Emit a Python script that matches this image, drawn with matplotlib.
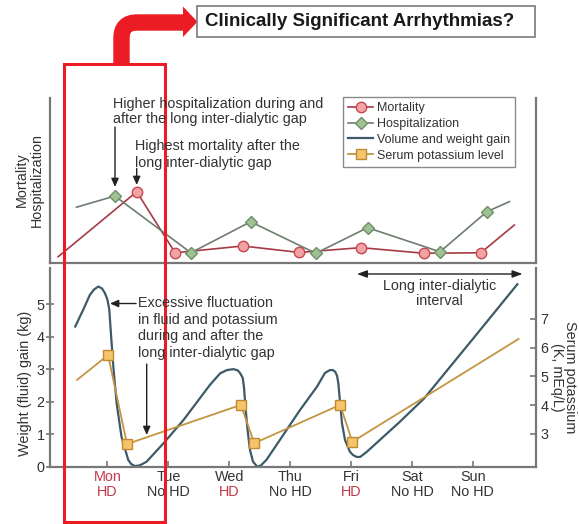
import matplotlib
matplotlib.use("Agg")
import matplotlib.pyplot as plt
from matplotlib.patches import Rectangle, Polygon, PathPatch
from matplotlib.path import Path

plt.rcParams['font.family'] = ['Liberation Sans', 'DejaVu Sans']

# x axis is in days, Mon = 0
days = ['Mon', 'Tue', 'Wed', 'Thu', 'Fri', 'Sat', 'Sun']
sessions = ['HD', 'No HD', 'HD', 'No HD', 'HD', 'No HD', 'No HD']
day_pos = [0, 1, 2, 3, 4, 5, 6]

# top panel (relative scale, no ticks)
mort_x = [-0.81, 0.48, 1.11, 2.22, 3.15, 4.16, 5.20, 6.13, 6.68]
mort_y = [0.38, 4.32, 0.62, 1.03, 0.64, 0.93, 0.59, 0.62, 2.30]
hosp_x = [-0.51, 0.12, 1.37, 2.35, 3.42, 4.27, 5.46, 6.23, 6.60]
hosp_y = [3.38, 4.06, 0.62, 2.50, 0.59, 2.14, 0.68, 3.11, 3.72]

# bottom panel: weight gain (kg)
vol_x = [-0.53, -0.40, -0.29, -0.22, -0.15, -0.09, -0.04, 0.00, 0.03, 0.06, 0.10,
         0.15, 0.23, 0.34, 0.39, 0.45, 0.53, 0.64, 0.92, 1.25, 1.68, 1.85, 1.96,
         2.07, 2.14, 2.18, 2.22, 2.24, 2.27, 2.30, 2.34, 2.39, 2.46, 2.52, 2.61,
         2.83, 3.16, 3.44, 3.57, 3.65, 3.70, 3.74, 3.77, 3.79, 3.82, 3.85, 3.90,
         3.98, 4.03, 4.09, 4.15, 4.26, 4.80, 5.20, 6.00, 6.73]
vol_y = [4.32, 4.83, 5.29, 5.46, 5.55, 5.49, 5.34, 5.14, 4.83, 4.01, 2.99,
         1.96, 0.93, 0.22, 0.09, 0.03, 0.05, 0.16, 0.73, 1.45, 2.52, 2.88, 2.98,
         3.01, 2.97, 2.88, 2.74, 2.47, 1.75, 1.14, 0.52, 0.16, 0.01, 0.05, 0.22,
         0.83, 1.75, 2.47, 2.89, 2.98, 2.98, 2.93, 2.80, 2.58, 1.96, 1.35, 0.83,
         0.47, 0.37, 0.31, 0.31, 0.47, 1.39, 2.11, 3.94, 5.62]

# serum potassium (K, mEq/L)
k_x = [-0.50, 0.01, 0.32, 2.19, 2.41, 3.82, 4.02, 6.75]
k_y = [4.88, 5.74, 2.65, 4.01, 2.68, 4.01, 2.73, 6.30]

TXT = '#333333'
HD_RED = '#c23a48'
RED = '#ec1c24'
SPINE = '#777777'
FS = 10.4

fig = plt.figure(figsize=(5.79, 5.24), dpi=100)
W, H = 579, 524

ax_top = fig.add_axes([50 / W, 1 - 263 / H, 486 / W, 165 / H])
ax_bot = fig.add_axes([50 / W, 1 - 467 / H, 486 / W, 199 / H])
ax_k = ax_bot.twinx()

xlim = (-0.944, 7.036)

# top panel
l_mort, = ax_top.plot(mort_x, mort_y, color='#a63a45', lw=1.2, marker='o', ms=7.5,
                      mfc='#f2a3a3', mec='#c8474f', mew=1.0, markevery=slice(1, -1),
                      label='Mortality')
l_hosp, = ax_top.plot(hosp_x, hosp_y, color='#6f7d70', lw=1.2, marker='D', ms=6,
                      mfc='#9fc194', mec='#6f8f66', mew=1.0, markevery=slice(1, -1),
                      label='Hospitalization')
ax_top.set_xlim(xlim)
ax_top.set_ylim(0, 10)
ax_top.set_xticks([])
ax_top.set_yticks([])
ax_top.spines['top'].set_visible(False)
for s in ['left', 'right', 'bottom']:
    ax_top.spines[s].set_color(SPINE)
    ax_top.spines[s].set_linewidth(1.6)

# bottom panel
l_vol, = ax_bot.plot(vol_x, vol_y, color='#3e5a69', lw=1.6, solid_joinstyle='round',
                     label='Volume and weight gain')
l_k, = ax_k.plot(k_x, k_y, color='#c39540', lw=1.3, marker='s', ms=7,
                 mfc='#f6c46a', mec='#c08a33', mew=1.0, markevery=slice(1, -1),
                 label='Serum potassium level')
ax_bot.set_xlim(xlim)
ax_bot.set_ylim(0, 6.12)
ax_k.set_ylim(1.854, 8.764)
ax_bot.set_yticks([0, 1, 2, 3, 4, 5])
ax_k.set_yticks([3, 4, 5, 6, 7])
ax_bot.set_xticks(day_pos)
ax_bot.set_xticklabels([])
ax_bot.tick_params(axis='x', direction='in', length=4, color=SPINE, width=1.2)
ax_bot.tick_params(axis='y', direction='inout', length=6, color=SPINE, width=1.2,
                   labelsize=FS, labelcolor=TXT, pad=0.8)
ax_k.tick_params(axis='y', direction='in', length=4, color=SPINE, width=1.2,
                 labelsize=FS, labelcolor=TXT, pad=3)
for a in (ax_bot, ax_k):
    a.spines['top'].set_visible(False)
    for s in ['left', 'right', 'bottom']:
        a.spines[s].set_color(SPINE)
        a.spines[s].set_linewidth(1.6)
ax_k.spines['left'].set_visible(False)
ax_k.spines['bottom'].set_visible(False)
ax_bot.spines['right'].set_visible(False)

# two-line day labels
xt = ax_bot.get_xaxis_transform()
for i, (d, s) in enumerate(zip(days, sessions)):
    c1 = HD_RED if i == 0 else TXT
    c2 = HD_RED if s == 'HD' else TXT
    ax_bot.text(day_pos[i], -0.049, d, transform=xt, ha='center', va='center',
                fontsize=FS, color=c1)
    ax_bot.text(day_pos[i], -0.124, s, transform=xt, ha='center', va='center',
                fontsize=FS, color=c2)

leg = ax_top.legend(handles=[l_mort, l_hosp, l_vol, l_k], loc='upper left',
                    bbox_to_anchor=(0.6035, 1.004), borderaxespad=0, fontsize=9,
                    frameon=True, fancybox=False, framealpha=1, edgecolor='#8a8a8a',
                    handlelength=2.0, handletextpad=0.3, labelspacing=0.3,
                    borderpad=0.4)
leg.get_frame().set_linewidth(1.0)
for t in leg.get_texts():
    t.set_color(TXT)

# overlay in pixel coordinates for the notes and decorations
ov = fig.add_axes([0, 0, 1, 1])
ov.set_xlim(0, W)
ov.set_ylim(H, 0)
ov.axis('off')
ov.patch.set_visible(False)

arr = dict(arrowstyle='-|>,head_length=0.5,head_width=0.22', color='#222222', lw=1.0,
           shrinkA=0, shrinkB=0)

ov.text(112.7, 111.5, 'Higher hospitalization during and\nafter the long inter-dialytic gap',
        fontsize=FS, color=TXT, ha='left', va='center', linespacing=1.17)
ov.annotate('', xy=(115, 187), xytext=(115, 127), arrowprops=arr)
ov.text(135, 154.5, 'Highest mortality after the\nlong inter-dialytic gap',
        fontsize=FS, color=TXT, ha='left', va='center', linespacing=1.2)
ov.annotate('', xy=(136.7, 185), xytext=(136.7, 168.5), arrowprops=arr)

ov.text(138.3, 328, 'Excessive fluctuation\nin fluid and potassium\nduring and after the\nlong inter-dialytic gap',
        fontsize=FS, color=TXT, ha='left', va='center', linespacing=1.22)
ov.annotate('', xy=(110, 303.5), xytext=(136, 303.5), arrowprops=arr)
ov.annotate('', xy=(146.7, 435), xytext=(146.7, 364), arrowprops=arr)

ov.annotate('', xy=(522.5, 274), xytext=(357, 274),
            arrowprops=dict(arrowstyle='<|-|>,head_length=0.6,head_width=0.22',
                            color='#222222', lw=1.0, shrinkA=0, shrinkB=0))
ov.text(439.5, 293.5, 'Long inter-dialytic\ninterval', fontsize=FS, color=TXT,
        ha='center', va='center', multialignment='center', linespacing=1.17)

# axis titles
ov.text(29, 180, 'Mortality\nHospitalization', fontsize=FS, color=TXT, rotation=90,
        ha='center', va='center', multialignment='center', linespacing=1.1)
ov.text(25, 383, 'Weight (fluid) gain (kg)', fontsize=FS, color=TXT, rotation=90,
        ha='center', va='center')
ov.text(563.5, 377, 'Serum potassium\n(K, mEq/L)', fontsize=FS, color=TXT, rotation=-90,
        ha='center', va='center', multialignment='center', linespacing=0.95)

# red highlight box and bent arrow
ov.add_patch(Rectangle((63.5, 63.5), 101.5, 458, fill=False, edgecolor=RED, lw=2.2))
bend = Path([(121.5, 64), (121.5, 38), (121.5, 22.5), (137, 22.5), (184, 22.5)],
            [Path.MOVETO, Path.LINETO, Path.CURVE3, Path.CURVE3, Path.LINETO])
ov.add_patch(PathPatch(bend, fill=False, edgecolor=RED, lw=11.8, capstyle='butt',
                       joinstyle='miter'))
ov.add_patch(Polygon([(183, 6.5), (183, 37), (197.5, 21.8)], closed=True,
                     facecolor=RED, edgecolor='none'))

# title box
ov.add_patch(Rectangle((197, 6), 338, 31, facecolor='white', edgecolor='#7a7a7a', lw=1.2))
ov.text(205, 21.5, 'Clinically Significant Arrhythmias?', fontsize=13.5,
        fontweight='bold', color='#1a1a1a', ha='left', va='center')

fig.savefig('out.png', dpi=100)
